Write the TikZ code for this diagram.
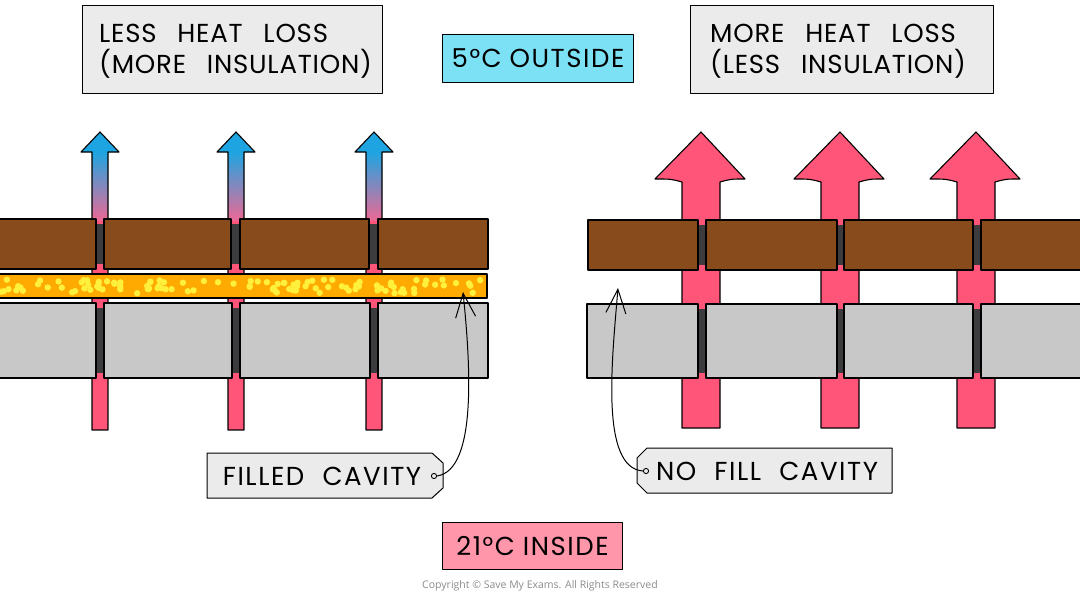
\documentclass[tikz,border=0pt]{standalone}
\usepackage{fontspec}
\setmainfont{Poppins}
\newfontfamily\hand[LetterSpace=6]{Poppins}
\newfontfamily\handb[LetterSpace=3]{Poppins}
\newfontfamily\copyfont{Open Sans}
\usetikzlibrary{arrows.meta}
\definecolor{brick}{RGB}{136,76,28}
\definecolor{block}{RGB}{200,200,200}
\definecolor{mortar}{RGB}{60,60,62}
\definecolor{foam}{RGB}{255,170,0}
\definecolor{dot}{RGB}{255,240,60}
\definecolor{heat}{RGB}{255,85,120}
\definecolor{cold}{RGB}{30,165,225}
\definecolor{gradpink}{RGB}{235,105,150}
\definecolor{lbl}{RGB}{235,235,235}
\definecolor{outcol}{RGB}{125,225,245}
\definecolor{incol}{RGB}{255,150,170}
\begin{document}
\begin{tikzpicture}[x=1pt,y=-1pt,line join=round,
  outl/.style={draw=black,line width=1.1pt},
  brickbox/.style={outl,fill=brick},
  blockbox/.style={outl,fill=block},
  mortarbox/.style={fill=mortar},
  txt/.style={font=\hand\fontsize{26}{31}\selectfont},
  labelbox/.style={draw=black,line width=1pt,fill=lbl,anchor=north west,inner sep=0pt},
  labeltext/.style={font=\handb\fontsize{26}{31}\selectfont,align=left,anchor=north west,inner sep=0pt},
  tempbox/.style={txt,draw=black,line width=1pt,anchor=north west,align=center,inner sep=0pt},
  tagshape/.style={draw=black,line width=1pt,fill=lbl},
  pointer/.style={draw=black,line width=1pt,-{Straight Barb[length=24pt,width=20pt,line width=1pt]}}]
\useasboundingbox (0,0) rectangle (1080,595);
\fill[white] (0,0) rectangle (1080,595);

% ---------- LEFT: thin arrows ----------
\foreach \cx in {100,236,374}{
  \fill[heat] (\cx-8,152) rectangle (\cx+8,430);
  \shade[top color=cold,bottom color=gradpink] (\cx-8,152) rectangle (\cx+8,220);
  \fill[cold] (\cx-19,152) -- (\cx,132) -- (\cx+19,152) -- cycle;
  \draw[outl] (\cx-8,430) -- (\cx-8,152) -- (\cx-19,152) -- (\cx,132) -- (\cx+19,152) -- (\cx+8,152) -- (\cx+8,430) -- cycle;
}
% mortar left
\foreach \a/\b in {96/104,231/240,369/378}{
  \fill[mortarbox] (\a-1,224) rectangle (\b+1,264);
  \fill[mortarbox] (\a-1,308) rectangle (\b+1,373);
}
% bricks left
\draw[brickbox] (-5,219) rectangle (96,269);
\draw[brickbox] (104,219) rectangle (231,269);
\draw[brickbox] (240,219) rectangle (369,269);
\draw[brickbox] (378,219) rectangle (488,269);
% foam
\draw[outl,fill=foam] (-5,274) rectangle (487,298);
\begin{scope}
\clip (-5,275) rectangle (486,297);
\pgfmathsetseed{11}
\foreach \i in {1,...,110}{
  \pgfmathsetmacro{\dx}{1+rnd*484}
  \pgfmathsetmacro{\dy}{279.5+rnd*14}
  \fill[dot] (\dx,\dy) circle (3.2pt);
}
\end{scope}
% blocks left
\draw[blockbox] (-5,303) rectangle (96,378);
\draw[blockbox] (104,303) rectangle (232,378);
\draw[blockbox] (240,303) rectangle (370,378);
\draw[blockbox] (378,303) rectangle (488,378);

% ---------- RIGHT: big arrows ----------
\foreach \cx in {701,840,976}{
  \draw[outl,fill=heat] (\cx-19,428) -- (\cx-19,182) .. controls (\cx-30,179) .. (\cx-46,179) -- (\cx,132) -- (\cx+44,179) .. controls (\cx+30,179) .. (\cx+19,182) -- (\cx+19,428) -- cycle;
}
\foreach \a/\b in {698/706,837/844,973/981}{
  \fill[mortarbox] (\a-1,225) rectangle (\b+1,265);
  \fill[mortarbox] (\a-1,309) rectangle (\b+1,373);
}
\draw[brickbox] (588,220) rectangle (698,270);
\draw[brickbox] (706,220) rectangle (837,270);
\draw[brickbox] (844,220) rectangle (973,270);
\draw[brickbox] (981,220) rectangle (1090,270);
\draw[blockbox] (587,304) rectangle (698,378);
\draw[blockbox] (706,304) rectangle (837,378);
\draw[blockbox] (844,304) rectangle (973,378);
\draw[blockbox] (981,304) rectangle (1090,378);

% ---------- labels ----------
\node[labelbox,minimum width=300pt,minimum height=88pt] (less) at (82,5) {};
\node[labeltext] (lesstext) at (99,24)
  {LESS\hspace{0.8em}HEAT\hspace{0.8em}LOSS\\(MORE\hspace{0.8em}INSULATION)};
\node[labelbox,minimum width=303pt,minimum height=88pt] (more) at (690,5) {};
\node[labeltext] (moretext) at (710,24)
  {MORE\hspace{0.8em}HEAT\hspace{0.8em}LOSS\\(LESS\hspace{0.8em}INSULATION)};
\node[tempbox,fill=outcol,minimum width=191pt,minimum height=48pt] (outside) at (442,34) {5°C\hspace{0.3em}OUTSIDE};
\node[tempbox,fill=incol,minimum width=180pt,minimum height=47pt] (inside) at (442,522) {21°C\hspace{0.3em}INSIDE};

% tags
\draw[tagshape] (207,453) -- (432,453) -- (443,463) -- (443,488) -- (432,498) -- (207,498) -- cycle;
\node[txt] (filled) at (322,476) {FILLED\hspace{0.7em}CAVITY};
\coordinate (fhole) at (434,476);
\draw[line width=0.9pt] (fhole) circle[radius=2.6pt];
\coordinate (ftip) at (463,292);
\draw[pointer] (fhole) ++(3,0) .. controls (478,470) and (470,360) .. (ftip);

\draw[tagshape] (647,448) -- (892,448) -- (892,493) -- (647,493) -- (637,483) -- (637,458) -- cycle;
\node[txt] (nofill) at (767,471) {NO\hspace{0.7em}FILL\hspace{0.7em}CAVITY};
\coordinate (nhole) at (646,471);
\draw[line width=0.9pt] (nhole) circle[radius=2.6pt];
\coordinate (ntip) at (618,288);
\draw[pointer] (nhole) ++(-3,0) .. controls (600,468) and (612,360) .. (ntip);

\node[font=\copyfont\fontsize{10.5}{12}\selectfont,text=black!45] (copy) at (540,586) {Copyright © Save My Exams. All Rights Reserved};
\end{tikzpicture}
\end{document}
